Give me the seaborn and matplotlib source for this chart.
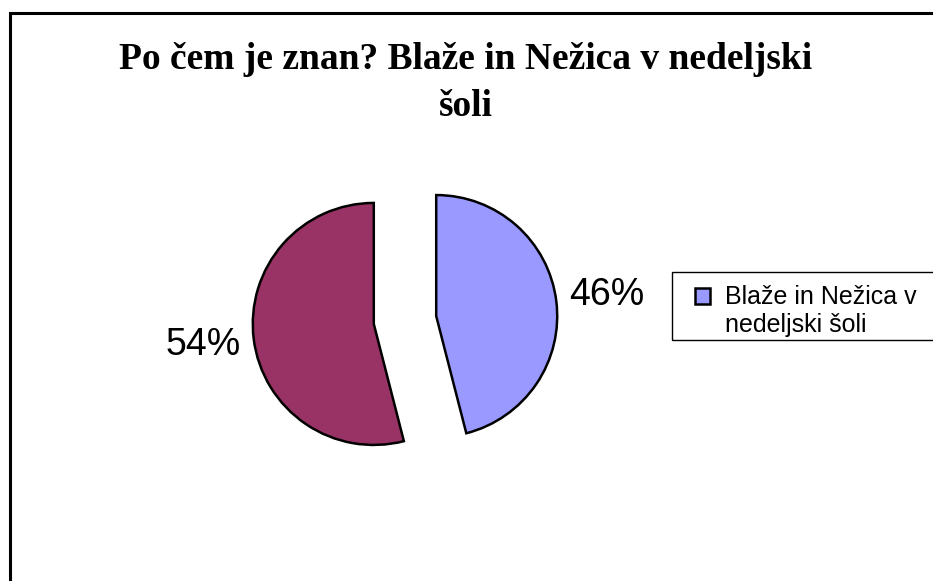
import matplotlib
matplotlib.use("Agg")
import matplotlib.pyplot as plt
import seaborn as sns
from matplotlib.patches import Rectangle
from matplotlib.legend_handler import HandlerPatch

sns.set_style("white")
plt.rcParams['font.family'] = ['Liberation Sans', 'DejaVu Sans']
plt.rcParams['text.color'] = 'black'

title = "Po čem je znan? Blaže in Nežica v nedeljski\nšoli"
labels = ["Blaže in Nežica v\nnedeljski šoli", ""]
shares = [46, 54]
colors = ["#9999FF", "#993366"]

W, H = 933, 581
fig = plt.figure(figsize=(W / 100, H / 100), dpi=100)

# pie axes: square centred on the pie, radius 1 -> ~121 px
cx, cy, side = 405, 320, 300
ax = fig.add_axes([(cx - side / 2) / W, 1 - (cy + side / 2) / H, side / W, side / H])
lim = side / 2 / 121
wedges, texts, autotexts = ax.pie(
    shares, colors=colors, startangle=90, counterclock=False,
    explode=[0.26, 0.26], autopct="%1.0f%%", pctdistance=1.42,
    wedgeprops=dict(edgecolor="black", linewidth=1.8),
    textprops=dict(fontsize=27, color="black"),
)
ax.set_xlim(-lim, lim)
ax.set_ylim(-lim, lim)
ax.set_aspect("equal")
ax.axis("off")

fig.text(466 / W, 1 - 42 / H, title, ha="center", va="top",
         fontsize=27, fontweight="bold", family="Liberation Serif",
         linespacing=1.45, color="black")

# outer chart border (only top and left visible)
fig.patches.append(Rectangle((10 / W, -0.1), 1.2, 1 - 13 / H + 0.1, fill=False,
                             edgecolor="black", linewidth=2.2,
                             transform=fig.transFigure))

# legend box
fig.patches.append(Rectangle((672 / W, 1 - 340 / H), 0.5, 68 / H, fill=False,
                             edgecolor="black", linewidth=1,
                             transform=fig.transFigure))


def top_square(legend, orig_handle, xdescent, ydescent, width, height, fontsize):
    return Rectangle((-xdescent, -ydescent + 0.62 * fontsize), width, height)


fig.legend([wedges[0]], [labels[0]], loc="upper left",
           bbox_to_anchor=(690 / W, 1 - 280 / H), frameon=False,
           handlelength=0.6, handleheight=0.6, handletextpad=0.6,
           borderpad=0.2, borderaxespad=0, labelspacing=0.3,
           prop=dict(size=18), labelcolor="black",
           handler_map={wedges[0]: HandlerPatch(patch_func=top_square)})

fig.savefig("out.png", dpi=100)
